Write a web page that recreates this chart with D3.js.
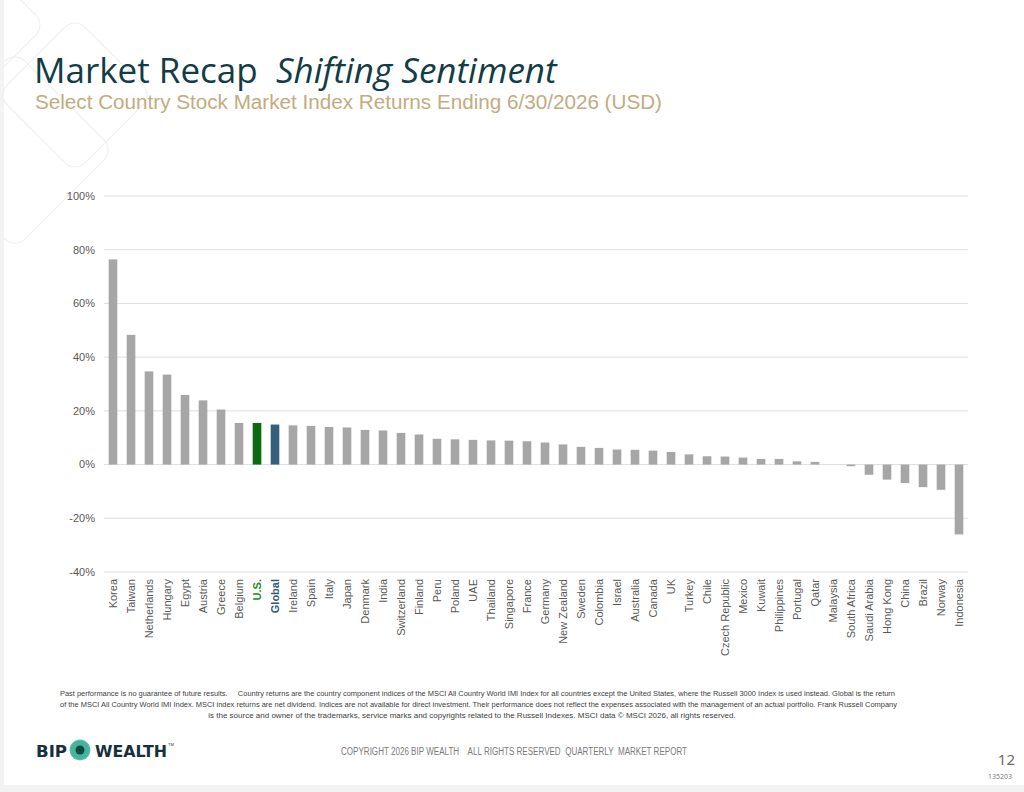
<!DOCTYPE html>
<html>
<head>
<meta charset="utf-8">
<script src="https://cdn.jsdelivr.net/npm/d3@7"></script>
<style>
  html, body { margin: 0; padding: 0; background: #fff; }
  svg { display: block; }
</style>
</head>
<body>
<svg width="1024" height="792"></svg>
<script>
// country order as shown, left to right
const countries = [
  "Korea", "Taiwan", "Netherlands", "Hungary", "Egypt", "Austria", "Greece", "Belgium",
  "U.S.", "Global", "Ireland", "Spain", "Italy", "Japan", "Denmark", "India",
  "Switzerland", "Finland", "Peru", "Poland", "UAE", "Thailand", "Singapore", "France",
  "Germany", "New Zealand", "Sweden", "Colombia", "Israel", "Australia", "Canada", "UK",
  "Turkey", "Chile", "Czech Republic", "Mexico", "Kuwait", "Philippines", "Portugal", "Qatar",
  "Malaysia", "South Africa", "Saudi Arabia", "Hong Kong", "China", "Brazil", "Norway", "Indonesia"
];
// returns in %
const returns = [
  76.4, 48.3, 34.7, 33.5, 25.9, 23.9, 20.5, 15.5,
  15.5, 14.9, 14.6, 14.4, 14.0, 13.8, 12.9, 12.7,
  11.8, 11.2, 9.6, 9.4, 9.2, 9.0, 8.9, 8.7,
  8.2, 7.5, 6.6, 6.2, 5.6, 5.5, 5.2, 4.7,
  3.8, 3.1, 3.0, 2.6, 2.1, 2.1, 1.2, 1.0,
  0.0, -0.6, -3.8, -5.6, -6.9, -8.4, -9.4, -26.0
];
const yTicks = [-40, -20, 0, 20, 40, 60, 80, 100];

const footnote = [
  "Past performance is no guarantee of future results.     Country returns are the country component indices of the MSCI All Country World IMI Index for all countries except the United States, where the Russell 3000 Index is used instead. Global is the return",
  "of the MSCI All Country World IMI Index. MSCI index returns are net dividend. Indices are not available for direct investment. Their performance does not reflect the expenses associated with the management of an actual portfolio. Frank Russell Company",
  "is the source and owner of the trademarks, service marks and copyrights related to the Russell Indexes. MSCI data \u00a9 MSCI 2026, all rights reserved."
];

const svg = d3.select("svg");
const narrow = "'Liberation Sans Narrow', 'Liberation Sans', Arial, sans-serif";
const arial = "'Liberation Sans', Arial, sans-serif";

// page edges
svg.append("rect").attr("x", 0).attr("y", 0).attr("width", 4).attr("height", 792).attr("fill", "#f3f3f3");
svg.append("rect").attr("x", 0).attr("y", 785).attr("width", 1024).attr("height", 7).attr("fill", "#f3f3f3");

// faint decoration top-left
const deco = svg.append("g").attr("fill", "none").attr("stroke", "#edf2f0").attr("stroke-width", 1.2);
[[75, 95, 110], [15, 150, 140], [-25, 25, 100]].forEach(([cx, cy, s]) => {
  deco.append("rect")
    .attr("x", -s / 2).attr("y", -s / 2).attr("width", s).attr("height", s)
    .attr("rx", 14)
    .attr("transform", `translate(${cx},${cy}) rotate(45)`);
});

// titles
const title = svg.append("text")
  .attr("x", 34).attr("y", 83)
  .attr("font-family", "'Open Sans', 'Noto Sans', sans-serif")
  .attr("font-size", 35)
  .attr("fill", "#123c46")
  .attr("xml:space", "preserve");
title.append("tspan").text("Market Recap  ");
title.append("tspan").attr("font-style", "italic").text("Shifting Sentiment");

svg.append("text")
  .attr("x", 35).attr("y", 109)
  .attr("font-family", narrow)
  .attr("font-size", 20)
  .attr("fill", "#c3ab80")
  .attr("textLength", 627).attr("lengthAdjust", "spacingAndGlyphs")
  .text("Select Country Stock Market Index Returns Ending 6/30/2026 (USD)");

// chart
const x = d3.scaleBand().domain(countries).range([104, 968]).paddingInner(0.52).paddingOuter(0.26);
const y = d3.scaleLinear().domain([-40, 100]).range([572, 196]);

const grid = svg.append("g");
grid.selectAll("line").data(yTicks).join("line")
  .attr("x1", 104).attr("x2", 968)
  .attr("y1", d => y(d)).attr("y2", d => y(d))
  .attr("stroke", "#dedede").attr("stroke-width", 1);

grid.selectAll("text").data(yTicks).join("text")
  .attr("x", 95).attr("y", d => y(d)).attr("dy", "0.35em")
  .attr("text-anchor", "end")
  .attr("font-family", arial).attr("font-size", 11)
  .attr("fill", "#595959")
  .text(d => d + "%");

const colorOf = c => c === "U.S." ? "#0b6a12" : c === "Global" ? "#355f7d" : "#a6a6a6";
const labelColor = c => c === "U.S." ? "#1f8a2a" : c === "Global" ? "#2f5a78" : "#595959";

svg.append("g").selectAll("rect").data(countries).join("rect")
  .attr("x", d => x(d))
  .attr("width", x.bandwidth())
  .attr("y", (d, i) => y(Math.max(0, returns[i])))
  .attr("height", (d, i) => Math.abs(y(returns[i]) - y(0)))
  .attr("fill", d => colorOf(d));

svg.append("g").selectAll("text").data(countries).join("text")
  .attr("transform", d => `translate(${x(d) + x.bandwidth() / 2},579) rotate(-90)`)
  .attr("dy", "0.35em")
  .attr("text-anchor", "end")
  .attr("font-family", arial).attr("font-size", 11)
  .attr("font-weight", d => (d === "U.S." || d === "Global") ? "bold" : "normal")
  .attr("fill", d => labelColor(d))
  .text(d => d);

// footnote
const fnY = [696, 707, 718];
const fnLen = [835, 837, null];
svg.append("g").selectAll("text").data(footnote).join("text")
  .attr("x", (d, i) => i < 2 ? 60 : 472)
  .attr("y", (d, i) => fnY[i])
  .attr("text-anchor", (d, i) => i < 2 ? "start" : "middle")
  .attr("font-family", narrow).attr("font-size", 8)
  .attr("fill", "#404040")
  .attr("xml:space", "preserve")
  .each(function (d, i) { if (fnLen[i]) d3.select(this).attr("textLength", fnLen[i]).attr("lengthAdjust", "spacingAndGlyphs"); })
  .text(d => d);

// logo
const logo = svg.append("g");
logo.append("text").attr("x", 36).attr("y", 757)
  .attr("font-family", "'DejaVu Sans', sans-serif").attr("font-weight", "bold").attr("font-size", 16)
  .attr("fill", "#17303a").attr("textLength", 31).attr("lengthAdjust", "spacingAndGlyphs").text("BIP");
const petals = d3.range(12);
logo.append("g").attr("transform", "translate(80,750)")
  .selectAll("circle").data(petals).join("circle")
  .attr("cx", d => 5.5 * Math.cos(d * Math.PI / 6))
  .attr("cy", d => 5.5 * Math.sin(d * Math.PI / 6))
  .attr("r", 5).attr("fill", "#45b39b").attr("opacity", 0.85);
logo.append("circle").attr("cx", 80).attr("cy", 750).attr("r", 4.5).attr("fill", "#0f4a3c");
logo.append("text").attr("x", 95).attr("y", 757)
  .attr("font-family", "'DejaVu Sans', sans-serif").attr("font-weight", "bold").attr("font-size", 16)
  .attr("fill", "#17303a").attr("textLength", 72).attr("lengthAdjust", "spacingAndGlyphs").text("WEALTH");
logo.append("text").attr("x", 168).attr("y", 746)
  .attr("font-family", arial).attr("font-size", 4).attr("fill", "#17303a").text("TM");

// footer
svg.append("text")
  .attr("x", 341).attr("y", 755)
  .attr("font-family", narrow).attr("font-size", 10)
  .attr("fill", "#7a7a7a")
  .attr("xml:space", "preserve")
  .attr("textLength", 346).attr("lengthAdjust", "spacingAndGlyphs")
  .text("COPYRIGHT 2026 BIP WEALTH    ALL RIGHTS RESERVED  QUARTERLY  MARKET REPORT");

svg.append("text")
  .attr("x", 1015).attr("y", 765).attr("text-anchor", "end")
  .attr("font-family", "'Noto Sans', sans-serif").attr("font-size", 15)
  .attr("fill", "#6b6b6b").text("12");

svg.append("text")
  .attr("x", 1012).attr("y", 779).attr("text-anchor", "end")
  .attr("font-family", "'Noto Sans', sans-serif").attr("font-size", 7)
  .attr("fill", "#7a7a7a").text("135203");
</script>
</body>
</html>
